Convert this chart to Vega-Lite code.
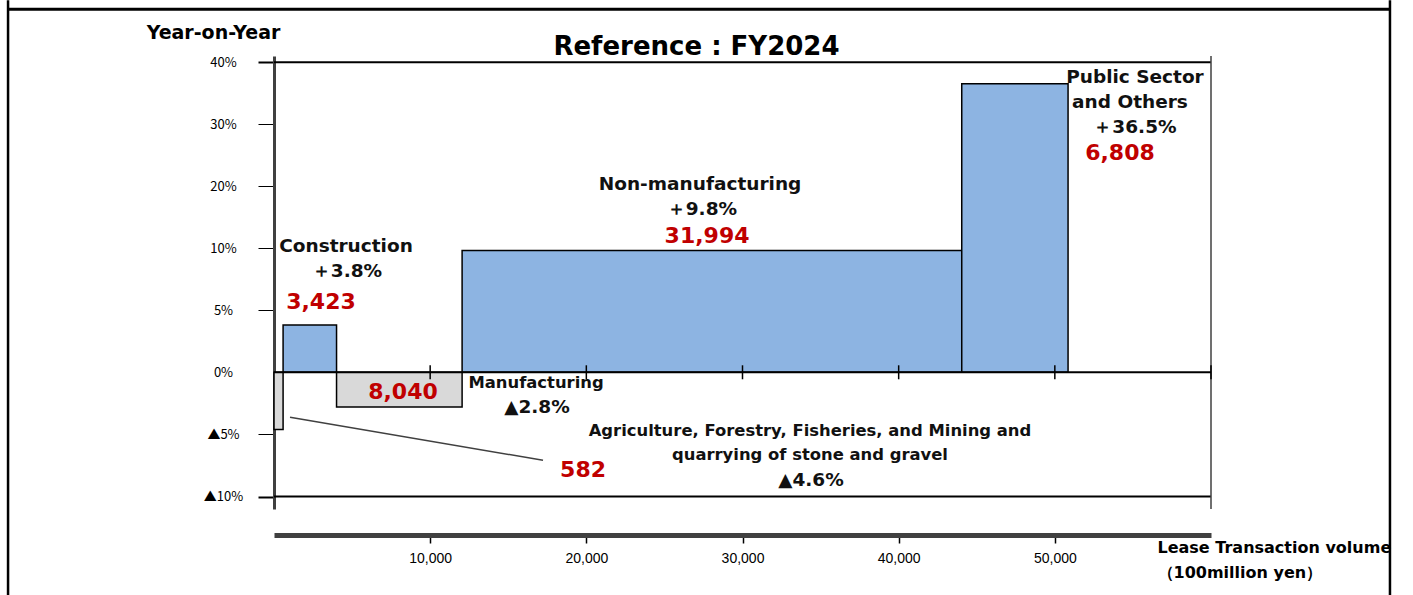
{
  "$schema": "https://vega.github.io/schema/vega-lite/v6.json",
  "width": 937,
  "height": 453,
  "autosize": {"type": "none"},
  "padding": {"left": 274, "top": 56, "right": 202, "bottom": 86},
  "background": "white",
  "config": {"view": {"stroke": null}},
  "title": {
    "text": "Reference : FY2024",
    "fontSize": 26,
    "font": "DejaVu Sans",
    "fontWeight": "bold",
    "color": "black",
    "anchor": "middle",
    "frame": "group",
    "dx": -46,
    "dy": 82,
    "baseline": "middle",
    "offset": 8
  },
  "datasets": {
    "bars": [
      {"sector": "Agriculture, Forestry, Fisheries, and Mining", "x": 0, "x2": 582, "yoy": -4.6, "sign": "neg"},
      {"sector": "Construction", "x": 582, "x2": 4005, "yoy": 3.8, "sign": "pos"},
      {"sector": "Manufacturing", "x": 4005, "x2": 12045, "yoy": -2.8, "sign": "neg"},
      {"sector": "Non-manufacturing", "x": 12045, "x2": 44039, "yoy": 9.8, "sign": "pos"},
      {"sector": "Public Sector and Others", "x": 44039, "x2": 50847, "yoy": 36.5, "sign": "pos"}
    ],
    "frame": [
      {"x": -17030, "x2": 71460, "y": 48.55, "y2": 48.55, "part": "top"},
      {"x": -17030, "x2": -17030, "y": 50, "y2": -19, "part": "side"},
      {"x": 71460, "x2": 71460, "y": 50, "y2": -19, "part": "side"}
    ],
    "lines": [
      {"x": 0, "x2": 60000, "y": 40, "y2": 40, "part": "h"},
      {"x": 0, "x2": 60000, "y": -10, "y2": -10, "part": "h"},
      {"x": 60000, "x2": 60000, "y": -11, "y2": 41, "part": "border"}
    ],
    "zero": [
      {"x": 0, "x2": 60000, "y": 0, "y2": 0}
    ],
    "zeroticks": [
      {"x": 10000, "y": 0}, {"x": 20000, "y": 0}, {"x": 30000, "y": 0},
      {"x": 40000, "y": 0}, {"x": 50000, "y": 0}, {"x": 60000, "y": 0}
    ],
    "connector": [
      {"x": 1025, "x2": 17225, "y": -3.62, "y2": -7.08}
    ],
    "labels": [
      {"x": 4610, "y": 10.3, "text": "Construction", "kind": "name"},
      {"x": 4675, "y": 8.13, "text": "＋3.8%", "kind": "name"},
      {"x": 3010, "y": 5.63, "text": "3,423", "kind": "vol"},
      {"x": 27280, "y": 20.3, "text": "Non-manufacturing", "kind": "name"},
      {"x": 27400, "y": 16.3, "text": "＋9.8%", "kind": "name"},
      {"x": 27730, "y": 12.0, "text": "31,994", "kind": "vol"},
      {"x": 55130, "y": 37.6, "text": "Public Sector", "kind": "name"},
      {"x": 54810, "y": 33.5, "text": "and Others", "kind": "name"},
      {"x": 55130, "y": 29.5, "text": "＋36.5%", "kind": "name"},
      {"x": 54170, "y": 25.4, "text": "6,808", "kind": "vol"},
      {"x": 8260, "y": -1.61, "text": "8,040", "kind": "vol"},
      {"x": 16780, "y": -0.88, "text": "Manufacturing", "kind": "small"},
      {"x": 16840, "y": -2.82, "text": "▲2.8%", "kind": "name"},
      {"x": 34320, "y": -4.75, "text": "Agriculture, Forestry, Fisheries, and Mining and", "kind": "small"},
      {"x": 34320, "y": -6.68, "text": "quarrying of stone and gravel", "kind": "small"},
      {"x": 34385, "y": -8.69, "text": "▲4.6%", "kind": "name"},
      {"x": 19790, "y": -7.88, "text": "582", "kind": "vol"}
    ]
  },
  "layer": [
    {
      "data": {"name": "bars"},
      "mark": {"type": "rect", "stroke": "black", "strokeWidth": 1.5},
      "encoding": {
        "x": {
          "field": "x", "type": "quantitative",
          "scale": {"domain": [0, 60000], "nice": false, "zero": false},
          "axis": {
            "title": ["Lease Transaction volume", "（100million yen）"],
            "values": [10000, 20000, 30000, 40000, 50000],
            "labelExpr": "format(datum.value, ',')",
            "offset": 26,
            "grid": false,
            "domainColor": "#404040",
            "domainWidth": 5,
            "tickColor": "black",
            "tickWidth": 1.5,
            "tickSize": 8,
            "labelFont": "Liberation Sans",
            "labelFontSize": 14,
            "labelColor": "black",
            "labelPadding": 8,
            "titleFont": "DejaVu Sans",
            "titleFontSize": 16,
            "titleFontWeight": "bold",
            "titleColor": "black",
            "titleAlign": "left",
            "titleBaseline": "top",
            "titleLineHeight": 25,
            "titleX": 883,
            "titleY": 4
          }
        },
        "x2": {"field": "x2"},
        "y": {
          "field": "yoy", "type": "quantitative",
          "scale": {"domain": [-11, 10, 41], "range": [453, 192, 0], "nice": false, "zero": false},
          "axis": {
            "title": "Year-on-Year",
            "values": [-10, -5, 0, 5, 10, 20, 30, 40],
            "labelExpr": "datum.value < 0 ? '▲' + abs(datum.value) + '%' : datum.value + '%'",
            "grid": false,
            "domainColor": "#404040",
            "domainWidth": 3,
            "tickSize": 16,
            "tickColor": {"condition": {"test": "datum.value === 0", "value": "transparent"}, "value": "black"},
            "tickWidth": {"condition": {"test": "datum.value === 40 || datum.value === -10", "value": 2}, "value": 1},
            "labelAlign": "center",
            "labelBaseline": "middle",
            "labelPadding": 35,
            "labelFont": "Noto Sans CJK JP",
            "labelFontSize": 13,
            "labelColor": "black",
            "titleFont": "DejaVu Sans",
            "titleFontSize": 19,
            "titleFontWeight": "bold",
            "titleColor": "black",
            "titleAngle": 0,
            "titleAlign": "center",
            "titleBaseline": "middle",
            "titleX": -61,
            "titleY": -24
          }
        },
        "y2": {"datum": 0},
        "fill": {
          "field": "sign", "type": "nominal",
          "scale": {"domain": ["pos", "neg"], "range": ["#8DB4E2", "#D9D9D9"]},
          "legend": null
        }
      }
    },
    {
      "data": {"name": "frame"},
      "mark": {"type": "rule", "color": "black"},
      "encoding": {
        "x": {"field": "x", "type": "quantitative"},
        "x2": {"field": "x2"},
        "y": {"field": "y", "type": "quantitative"},
        "y2": {"field": "y2"},
        "strokeWidth": {
          "field": "part", "type": "nominal",
          "scale": {"domain": ["top", "side"], "range": [3, 1.5]},
          "legend": null
        }
      }
    },
    {
      "data": {"name": "lines"},
      "mark": {"type": "rule"},
      "encoding": {
        "x": {"field": "x", "type": "quantitative"},
        "x2": {"field": "x2"},
        "y": {"field": "y", "type": "quantitative"},
        "y2": {"field": "y2"},
        "color": {
          "field": "part", "type": "nominal",
          "scale": {"domain": ["h", "border"], "range": ["black", "#404040"]},
          "legend": null
        },
        "strokeWidth": {
          "field": "part", "type": "nominal",
          "scale": {"domain": ["h", "border"], "range": [2, 3]},
          "legend": null
        }
      }
    },
    {
      "data": {"name": "zero"},
      "mark": {"type": "rule", "color": "black", "strokeWidth": 2},
      "encoding": {
        "x": {"field": "x", "type": "quantitative"},
        "x2": {"field": "x2"},
        "y": {"field": "y", "type": "quantitative"},
        "y2": {"field": "y2"}
      }
    },
    {
      "data": {"name": "zeroticks"},
      "mark": {"type": "tick", "orient": "vertical", "size": 14, "thickness": 1.5, "color": "black", "opacity": 1},
      "encoding": {
        "x": {"field": "x", "type": "quantitative"},
        "y": {"field": "y", "type": "quantitative"}
      }
    },
    {
      "data": {"name": "connector"},
      "mark": {"type": "rule", "color": "#404040", "strokeWidth": 1.5},
      "encoding": {
        "x": {"field": "x", "type": "quantitative"},
        "x2": {"field": "x2"},
        "y": {"field": "y", "type": "quantitative"},
        "y2": {"field": "y2"}
      }
    },
    {
      "data": {"name": "labels"},
      "transform": [{"filter": "datum.kind === 'name'"}],
      "mark": {"type": "text", "font": "DejaVu Sans", "fontWeight": "bold", "fontSize": 18.5, "color": "#111111", "align": "center", "baseline": "middle"},
      "encoding": {
        "x": {"field": "x", "type": "quantitative"},
        "y": {"field": "y", "type": "quantitative"},
        "text": {"field": "text"}
      }
    },
    {
      "data": {"name": "labels"},
      "transform": [{"filter": "datum.kind === 'small'"}],
      "mark": {"type": "text", "font": "DejaVu Sans", "fontWeight": "bold", "fontSize": 16.4, "color": "#111111", "align": "center", "baseline": "middle"},
      "encoding": {
        "x": {"field": "x", "type": "quantitative"},
        "y": {"field": "y", "type": "quantitative"},
        "text": {"field": "text"}
      }
    },
    {
      "data": {"name": "labels"},
      "transform": [{"filter": "datum.kind === 'vol'"}],
      "mark": {"type": "text", "font": "DejaVu Sans", "fontWeight": "bold", "fontSize": 22, "color": "#C00000", "align": "center", "baseline": "middle"},
      "encoding": {
        "x": {"field": "x", "type": "quantitative"},
        "y": {"field": "y", "type": "quantitative"},
        "text": {"field": "text"}
      }
    }
  ]
}
